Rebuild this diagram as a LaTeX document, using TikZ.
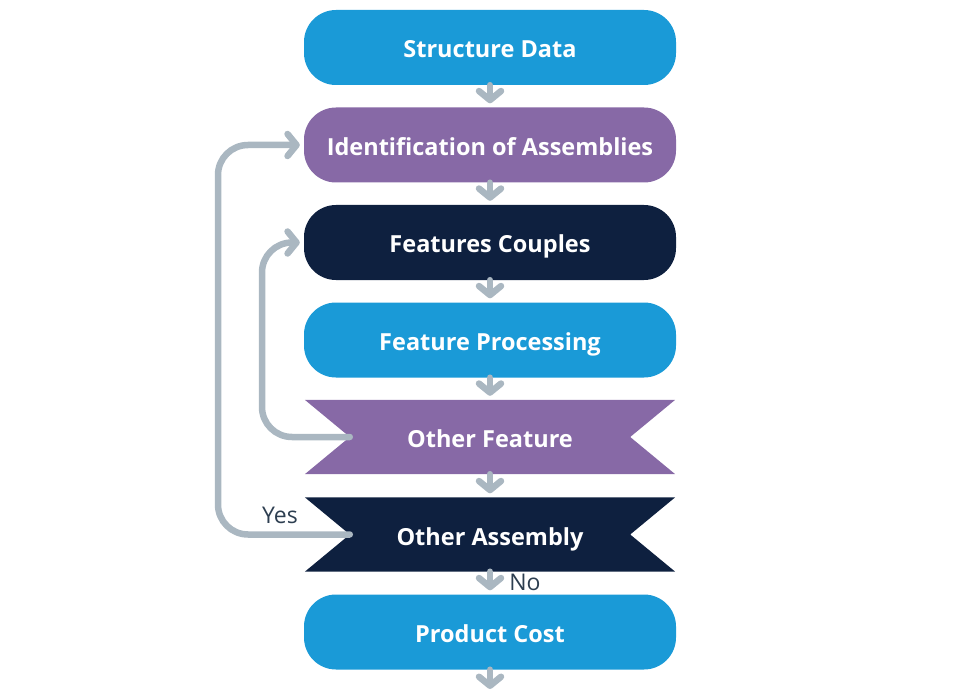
\documentclass[tikz,border=0pt]{standalone}
\usepackage{fontspec}
\setmainfont{Open Sans}
\usetikzlibrary{arrows.meta,backgrounds}
\definecolor{cblue}{HTML}{1A9AD7}
\definecolor{cpurple}{HTML}{8769A6}
\definecolor{cnavy}{HTML}{0E203F}
\definecolor{cgray}{HTML}{AAB7C1}
\definecolor{ctext}{HTML}{2D3E50}
\tikzset{
  rbox/.style={minimum width=372pt, minimum height=75pt, rounded corners=32pt, text=white, font=\fontsize{23.5}{27}\selectfont\bfseries, inner sep=0pt, text height=22pt, text depth=1pt},
  nbox/.style={minimum width=370pt, minimum height=74pt, text=white, font=\fontsize{23.5}{27}\selectfont\bfseries, inner sep=0pt, text height=22pt, text depth=1pt},
  conn/.style={draw=cgray, line width=6.5pt, line cap=round, line join=round, -{Straight Barb[round, length=9pt, width=22pt]}},
  loopc/.style={conn, rounded corners=30pt},
  lbl/.style={text=ctext, font=\fontsize{23}{27}\selectfont}
}
\begin{document}
\begin{tikzpicture}[x=1pt,y=-1pt]
\useasboundingbox (0,0) rectangle (980,695);
\node[rbox, fill=cblue] (sd) at (490,47.5) {Structure Data};
\node[rbox, fill=cpurple] (ia) at (490,145) {Identification of Assemblies};
\node[rbox, fill=cnavy] (fc) at (490,242.5) {Features Couples};
\node[rbox, fill=cblue] (fp) at (490,340) {Feature Processing};
\node[nbox] (of) at (490,437) {Other Feature};
\node[nbox] (oa) at (490,534.5) {Other Assembly};
\node[rbox, fill=cblue] (pc) at (490,632) {Product Cost};
\begin{scope}[on background layer]
\fill[cpurple] (of.north west) -- (of.north east) -- ([xshift=-45pt]of.east) -- (of.south east) -- (of.south west) -- ([xshift=45pt]of.west) -- cycle;
\fill[cnavy] (oa.north west) -- (oa.north east) -- ([xshift=-45pt]oa.east) -- (oa.south east) -- (oa.south west) -- ([xshift=45pt]oa.west) -- cycle;
\end{scope}
\coordinate (ofn) at ([xshift=45pt]of.west);
\coordinate (oan) at ([xshift=45pt]oa.west);
\coordinate (endc) at (490,689);
\draw[conn] (sd.south) -- ([yshift=4pt]ia.north);
\draw[conn] (ia.south) -- ([yshift=4pt]fc.north);
\draw[conn] (fc.south) -- ([yshift=4pt]fp.north);
\draw[conn] (fp.south) -- ([yshift=4pt]of.north);
\draw[conn] (of.south) -- ([yshift=4pt]oa.north);
\draw[conn] (oa.south) -- ([yshift=4pt]pc.north);
\draw[conn] (pc.south) -- (endc);
\draw[loopc] (ofn) -- (262,437) -- (262,242.5) -- ([xshift=-4pt]fc.west);
\draw[loopc] (oan) -- (218,534.5) -- (218,145) -- ([xshift=-4pt]ia.west);
\node[lbl] (yes) at (280,515) {Yes};
\node[lbl] (no) at (525,582) {No};
\end{tikzpicture}
\end{document}
